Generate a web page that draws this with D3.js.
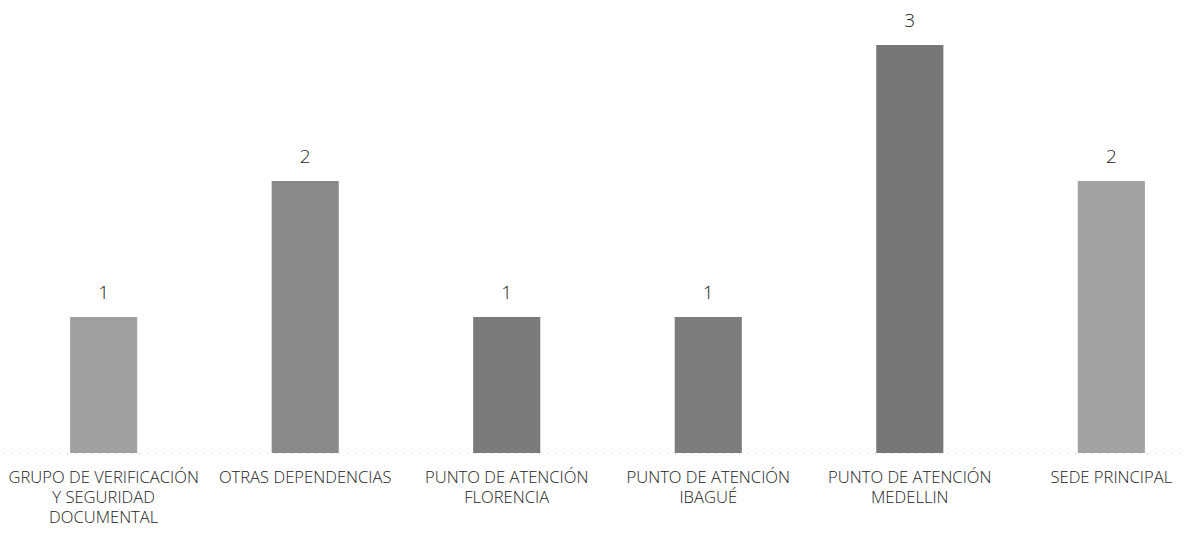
<!DOCTYPE html>
<html>
<head>
<meta charset="utf-8">
<script src="https://cdn.jsdelivr.net/npm/d3@7"></script>
<style>
  html, body { margin: 0; padding: 0; background: #fff; }
  svg { display: block; }
</style>
</head>
<body>
<svg id="chart" width="1186" height="535"></svg>
<script>
const categories = [
  "GRUPO DE VERIFICACIÓN\nY SEGURIDAD\nDOCUMENTAL",
  "OTRAS DEPENDENCIAS",
  "PUNTO DE ATENCIÓN\nFLORENCIA",
  "PUNTO DE ATENCIÓN\nIBAGUÉ",
  "PUNTO DE ATENCIÓN\nMEDELLIN",
  "SEDE PRINCIPAL"
];
const values = [1, 2, 1, 1, 3, 2];
const barColors = ["#a0a0a0", "#8a8a8a", "#7b7b7b", "#7d7d7d", "#777777", "#a2a2a2"];

const svg = d3.select("#chart");
const baseY = 453, topY = 45;

const x = d3.scaleBand()
  .domain(categories)
  .range([3, 1212])
  .paddingInner(0.667)
  .paddingOuter(0.333);

const y = d3.scaleLinear()
  .domain([0, 3])
  .range([baseY, topY]);

// baseline (faint dotted)
svg.append("line")
  .attr("x1", 3).attr("x2", 1183)
  .attr("y1", baseY + 0.5).attr("y2", baseY + 0.5)
  .attr("stroke", "#c8c8c8")
  .attr("stroke-width", 1)
  .attr("stroke-dasharray", "1,7");

// bars
svg.append("g").selectAll("rect")
  .data(values)
  .join("rect")
  .attr("x", (d, i) => x(categories[i]))
  .attr("width", x.bandwidth())
  .attr("y", d => y(d))
  .attr("height", d => baseY - y(d))
  .attr("fill", (d, i) => barColors[i]);

// value labels
svg.append("g").selectAll("text")
  .data(values)
  .join("text")
  .attr("x", (d, i) => x(categories[i]) + x.bandwidth() / 2)
  .attr("y", d => y(d) - 18)
  .attr("text-anchor", "middle")
  .attr("font-family", "'Open Sans', sans-serif")
  .attr("font-size", 19)
  .attr("font-weight", 300)
  .attr("fill", "#222")
  .text(d => d);

// category labels
const lab = svg.append("g").selectAll("text")
  .data(categories)
  .join("text")
  .attr("x", d => x(d) + x.bandwidth() / 2)
  .attr("y", 483)
  .attr("text-anchor", "middle")
  .attr("font-family", "'Open Sans', sans-serif")
  .attr("font-size", 16.6)
  .attr("font-weight", 300)
  .attr("fill", "#222");
lab.each(function(d) {
  const t = d3.select(this);
  d.split("\n").forEach((line, i) => {
    t.append("tspan")
      .attr("x", t.attr("x"))
      .attr("y", 483 + i * 20)
      .text(line);
  });
});
</script>
</body>
</html>
